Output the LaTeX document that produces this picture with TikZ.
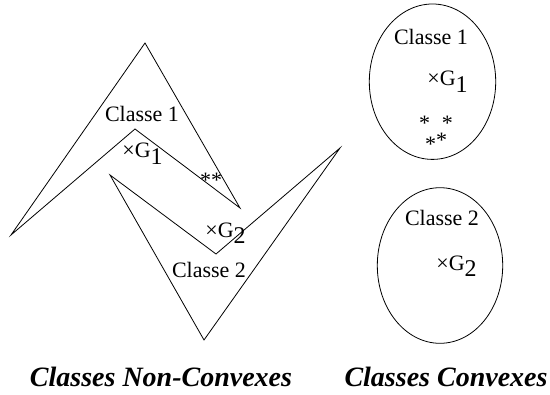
\documentclass[tikz,border=0pt]{standalone}
\usepackage{fontspec}
\setmainfont{Liberation Serif}
\usetikzlibrary{shapes.geometric}

\begin{document}
\begin{tikzpicture}[
  x=0.5pt, y=-0.5pt,
  classlbl/.style={inner sep=0pt, anchor=base, font=\fontsize{11}{13}\selectfont},
  center/.style={inner sep=0pt, anchor=base west, font=\fontsize{11}{13}\selectfont},
  pts/.style={inner sep=0pt, align=center, font=\fontsize{11}{7.5}\selectfont},
  region/.style={ellipse, draw, thin, inner sep=0pt},
  caption/.style={inner sep=0pt, anchor=base, font=\fontsize{14}{17}\selectfont\bfseries\itshape},
]
\useasboundingbox (0,0) rectangle (550,395);

% --- Non-convex classes ---
\draw[thin, line join=miter] (145,43) -- (240,208) -- (135,129) -- (11,235) -- cycle;
\draw[thin, line join=miter] (110,175) -- (216,254) -- (340,148) -- (204,340) -- cycle;

\node[classlbl] (nc1) at (142,122) {Classe 1};
\node[center] (ncg1) at (122,158) {×G\raisebox{-0.6ex}{\fontsize{12}{13}\selectfont 1}};
\node[pts] (ncp1) at (211,180) {**};
\node[center] (ncg2) at (205,237) {×G\raisebox{-0.6ex}{\fontsize{12}{13}\selectfont 2}};
\node[classlbl] (nc2) at (209,277) {Classe 2};

% --- Convex classes ---
\node[region, minimum width=63.2pt, minimum height=77.7pt] (e1) at (432.5,81.7) {};
\node[region, minimum width=62.7pt, minimum height=77.8pt] (e2) at (440,265.5) {};

\node[classlbl] (c1) at (431,45) {Classe 1};
\node[center] (cg1) at (427,86) {×G\raisebox{-0.6ex}{\fontsize{12}{13}\selectfont 1}};
\node[pts] (cpts) at (436,134) {*\hspace{6pt}*\\*\raisebox{2pt}{*}\hspace{2pt}};

\node[classlbl] (c2) at (442,225) {Classe 2};
\node[center] (cg2) at (436,270) {×G\raisebox{-0.6ex}{\fontsize{12}{13}\selectfont 2}};

% --- Captions ---
\node[caption] (capnc) at (161,386) {Classes Non-Convexes};
\node[caption] (capc) at (446,386) {Classes Convexes};
\end{tikzpicture}
\end{document}
